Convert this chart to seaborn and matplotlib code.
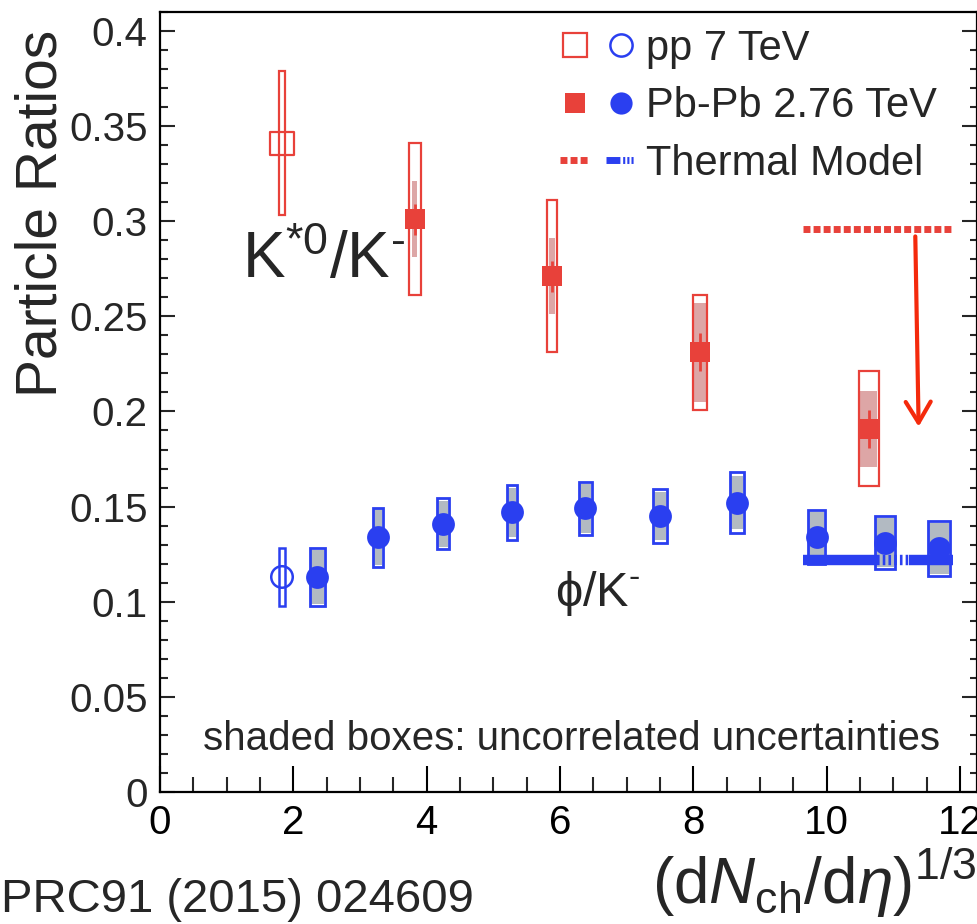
import numpy as np
import pandas as pd
import matplotlib
matplotlib.use("Agg")
import matplotlib.pyplot as plt
import seaborn as sns
from matplotlib.lines import Line2D
from matplotlib.legend_handler import HandlerTuple
from matplotlib.ticker import MultipleLocator

# ---------------- data ----------------
# K*0/K- : pp 7 TeV
ks_pp_x = [1.83]
ks_pp_y = [0.341]
ks_pp_sys = [0.038]
ks_pp_w = [0.09]
# K*0/K- : Pb-Pb 2.76 TeV
ks_pb_x = [3.82, 5.88, 8.10, 10.63]
ks_pb_y = [0.301, 0.271, 0.231, 0.191]
ks_pb_sys = [0.040, 0.040, 0.030, 0.030]
ks_pb_unc = [0.020, 0.020, 0.026, 0.020]
ks_pb_stat = [0.008, 0.008, 0.010, 0.010]
ks_pb_w = [0.18, 0.14, 0.21, 0.30]
ks_pb_uw = [0.08, 0.08, 0.17, 0.25]

# phi/K- : pp 7 TeV
phi_pp_x = [1.83]
phi_pp_y = [0.113]
phi_pp_sys = [0.015]
phi_pp_w = [0.10]
# phi/K- : Pb-Pb 2.76 TeV
phi_pb_x = [2.36, 3.27, 4.24, 5.28, 6.38, 7.50, 8.65, 9.85, 10.87, 11.68]
phi_pb_y = [0.113, 0.134, 0.141, 0.147, 0.149, 0.145, 0.152, 0.134, 0.131, 0.128]
phi_pb_sys = [0.015, 0.0155, 0.0135, 0.0145, 0.014, 0.014, 0.016, 0.014, 0.014, 0.0145]
phi_pb_unc = [0.014, 0.0145, 0.012, 0.013, 0.013, 0.0125, 0.014, 0.013, 0.013, 0.0135]
phi_pb_w = [0.22, 0.15, 0.18, 0.15, 0.19, 0.21, 0.21, 0.26, 0.30, 0.33]

# thermal model
therm_x = [9.64, 11.89]
therm_ks = 0.296
therm_phi = 0.122
therm_phi_break = [10.75, 11.23]

# arrow (K*0/K- suppression)
arrow_from = (11.33, 0.292)
arrow_to = (11.38, 0.192)

x_ticks = [0, 2, 4, 6, 8, 10, 12]
y_ticks = [0, 0.05, 0.1, 0.15, 0.2, 0.25, 0.3, 0.35, 0.4]
y_tick_labels = ["0", "0.05", "0.1", "0.15", "0.2", "0.25", "0.3", "0.35", "0.4"]

RED = "#E8413A"
BLUE = "#2A3FF0"
GRAY = "#B2BAC2"
PINK = "#DDA6A6"
ARROW = "#F42A0C"

sns.set_theme(style="ticks")
plt.rcParams["font.family"] = ["Liberation Sans", "DejaVu Sans"]
plt.rcParams["mathtext.fontset"] = "custom"
plt.rcParams["mathtext.rm"] = "Liberation Sans"
plt.rcParams["mathtext.it"] = "Liberation Sans:italic"
plt.rcParams["mathtext.bf"] = "Liberation Sans:bold"

fig = plt.figure(figsize=(9.78, 9.24), dpi=100)
ax = fig.add_axes([0.1636, 0.1429, 0.835, 0.8442])

# ---- K*0/K- boxes ----
ks_pp_y_a = np.array(ks_pp_y); ks_pp_s = np.array(ks_pp_sys)
ax.bar(ks_pp_x, 2 * ks_pp_s, bottom=ks_pp_y_a - ks_pp_s, width=ks_pp_w,
       facecolor="none", edgecolor=RED, linewidth=1.6, zorder=3)
kb_y = np.array(ks_pb_y); kb_s = np.array(ks_pb_sys); kb_u = np.array(ks_pb_unc)
ax.bar(ks_pb_x, 2 * kb_u, bottom=kb_y - kb_u, width=ks_pb_uw,
       facecolor=PINK, edgecolor="none", linewidth=0, zorder=2)
ax.bar(ks_pb_x, 2 * kb_s, bottom=kb_y - kb_s, width=ks_pb_w,
       facecolor="none", edgecolor=RED, linewidth=1.6, zorder=3)
ax.errorbar(ks_pb_x, ks_pb_y, yerr=ks_pb_stat, fmt="none", ecolor=RED,
            elinewidth=2.0, capsize=0, zorder=4)

# ---- phi/K- boxes ----
pp_y = np.array(phi_pp_y); pp_s = np.array(phi_pp_sys)
ax.bar(phi_pp_x, 2 * pp_s, bottom=pp_y - pp_s, width=phi_pp_w,
       facecolor="white", edgecolor=BLUE, linewidth=1.8, zorder=3)
pb_y = np.array(phi_pb_y); pb_s = np.array(phi_pb_sys); pb_u = np.array(phi_pb_unc)
ax.bar(phi_pb_x, 2 * pb_s, bottom=pb_y - pb_s, width=phi_pb_w,
       facecolor="white", edgecolor="none", zorder=2)
ax.bar(phi_pb_x, 2 * pb_u, bottom=pb_y - pb_u, width=np.array(phi_pb_w) * 0.9,
       facecolor=GRAY, edgecolor="none", zorder=2.5)
ax.bar(phi_pb_x, 2 * pb_s, bottom=pb_y - pb_s, width=phi_pb_w,
       facecolor="none", edgecolor=BLUE, linewidth=2.0, zorder=3)

# ---- thermal model ----
ax.plot(therm_x, [therm_ks, therm_ks], color=RED, lw=5.0,
        dashes=(1.0, 0.45), solid_capstyle="butt", dash_capstyle="butt", zorder=3)
ax.plot([therm_x[0], therm_phi_break[0]], [therm_phi] * 2, color=BLUE, lw=7.5,
        solid_capstyle="butt", zorder=5)
ax.plot(therm_phi_break, [therm_phi] * 2, color=BLUE, lw=7.5,
        dashes=(0.25, 0.3), dash_capstyle="butt", zorder=5)
ax.plot([therm_phi_break[1], therm_x[1]], [therm_phi] * 2, color=BLUE, lw=7.5,
        solid_capstyle="butt", zorder=5)

# ---- markers (seaborn) ----
sns.scatterplot(x=ks_pp_x, y=ks_pp_y, marker="s", s=280, facecolors="none",
                edgecolor=RED, linewidth=1.6, ax=ax, zorder=6, legend=False)
sns.scatterplot(x=ks_pb_x, y=ks_pb_y, marker="s", s=225, color=RED,
                edgecolor=RED, linewidth=0, ax=ax, zorder=6, legend=False)
sns.scatterplot(x=phi_pp_x, y=phi_pp_y, marker="o", s=240, facecolors="none",
                edgecolor=BLUE, linewidth=1.8, ax=ax, zorder=6, legend=False)
sns.scatterplot(x=phi_pb_x, y=phi_pb_y, marker="o", s=270, color=BLUE,
                edgecolor=BLUE, linewidth=0, ax=ax, zorder=6, legend=False)

# ---- arrow ----
ax.annotate("", xy=arrow_to, xytext=arrow_from,
            arrowprops=dict(arrowstyle="->,head_length=0.75,head_width=0.45",
                            color=ARROW, lw=3.0, shrinkA=0, shrinkB=0,
                            mutation_scale=20), zorder=7)

# ---- texts ----
ax.text(1.23, 0.270, "K$^{*0}$/K$^{\u2010}$", fontsize=46, ha="left", va="baseline", zorder=8)
ax.text(5.92, 0.098, "\u03D5/K$^{\u2010}$", fontsize=35, ha="left", va="baseline", zorder=8)
ax.text(6.18, 0.028, "shaded boxes: uncorrelated uncertainties", fontsize=29,
        ha="center", va="center", zorder=8)
fig.text(0.001, 0.013, "PRC91 (2015) 024609", fontsize=34, ha="left", va="baseline")

# ---- legend ----
h_pp = (Line2D([], [], ls="none", marker="s", ms=17, mfc="none", mec=RED, mew=1.6),
        Line2D([], [], ls="none", marker="o", ms=16, mfc="none", mec=BLUE, mew=1.8))
h_pb = (Line2D([], [], ls="none", marker="s", ms=15, mfc=RED, mec=RED, mew=0),
        Line2D([], [], ls="none", marker="o", ms=16, mfc=BLUE, mec=BLUE, mew=0))
h_th = (Line2D([], [], color=RED, lw=5.0, dashes=(1.0, 0.45)),
        Line2D([], [], color=BLUE, lw=5.0, dashes=(2.0, 0.4, 0.3, 0.3, 0.3, 0.3, 0.3, 0.3)))
leg = ax.legend([h_pp, h_pb, h_th], ["pp 7 TeV", "Pb-Pb 2.76 TeV", "Thermal Model"],
                handler_map={tuple: HandlerTuple(ndivide=None, pad=0.4)},
                loc="upper left", bbox_to_anchor=(0.47, 1.0), frameon=False,
                fontsize=30, handlelength=1.8, handletextpad=0.25, labelspacing=0.42,
                borderaxespad=0.0)

# ---- axes ----
ax.set_xlim(0, 12.25)
ax.set_ylim(0, 0.41)
ax.set_xticks(x_ticks)
ax.set_xticklabels([str(v) for v in x_ticks])
ax.set_yticks(y_ticks)
ax.set_yticklabels(y_tick_labels)
ax.xaxis.set_minor_locator(MultipleLocator(0.5))
ax.yaxis.set_minor_locator(MultipleLocator(0.01))
ax.tick_params(axis="x", which="major", direction="in", length=18.5, width=1.5,
               labelsize=29, pad=9, top=False, bottom=True, colors="black")
ax.tick_params(axis="x", which="minor", direction="in", length=10.5, width=1.5,
               top=False, bottom=True)
ax.tick_params(axis="y", which="major", direction="in", length=10.8, width=1.5,
               labelsize=29, pad=9, left=True, right=True)
ax.tick_params(axis="y", which="minor", direction="in", length=5.4, width=1.5,
               left=True, right=True)
for sp in ax.spines.values():
    sp.set_visible(True)
    sp.set_linewidth(1.6)
    sp.set_color("black")

ax.set_ylabel("Particle Ratios", fontsize=41, ha="right")
ax.yaxis.set_label_coords(-0.112, 0.977)
ax.set_xlabel(r"(d$\it{N}_{\rm ch}$/d$\it{\eta}$)$^{1/3}$", fontsize=46, ha="right", va="top")
ax.xaxis.set_label_coords(1.0, -0.068)

fig.savefig("out.png", dpi=100)
